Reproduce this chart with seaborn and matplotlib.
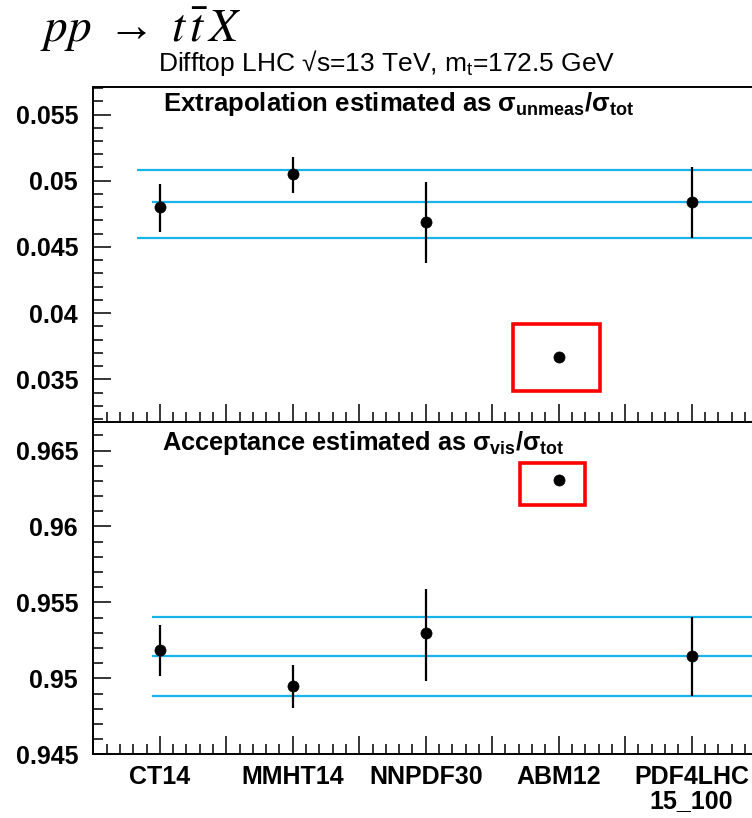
import numpy as np
import pandas as pd
import matplotlib
matplotlib.use('Agg')
import matplotlib.pyplot as plt
import seaborn as sns
from matplotlib.ticker import MultipleLocator, FuncFormatter
from matplotlib.patches import Rectangle

# data
models = ['CT14', 'MMHT14', 'NNPDF30', 'ABM12', 'PDF4LHC\n15_100']
positions = [1, 2, 3, 4, 5]

extrap_val = [0.04800, 0.05048, 0.04686, 0.03671, 0.04840]
extrap_up = [0.00173, 0.00132, 0.00306, 0.0, 0.00261]
extrap_dn = [0.00184, 0.00143, 0.00308, 0.0, 0.00274]
extrap_band = [0.05081, 0.04840, 0.04566]
extrap_band_start = [0.83, 0.944, 0.83]

accept_val = [0.95189, 0.94948, 0.95298, 0.96308, 0.95149]
accept_up = [0.00163, 0.00138, 0.00293, 0.0, 0.00252]
accept_dn = [0.00175, 0.00142, 0.00313, 0.0, 0.00262]
accept_band = [0.95407, 0.95145, 0.94883]
accept_band_start = [0.944, 0.944, 0.944]

# highlighted ABM12 boxes: (x0, x1, y0, y1)
extrap_box = [3.656, 4.308, 0.03412, 0.03914]
accept_box = [3.71, 4.196, 0.96139, 0.96419]

sns.set_style('ticks')
plt.rcParams['font.family'] = ['Liberation Sans', 'DejaVu Sans']
plt.rcParams['mathtext.default'] = 'regular'
for k in ['text.color', 'axes.labelcolor', 'xtick.color', 'ytick.color']:
    plt.rcParams[k] = 'black'

blue = '#19b3ec'

fig = plt.figure(figsize=(7.52, 8.18), dpi=100)
ax_top = fig.add_axes([0.1241, 0.4845, 0.884, 0.4095])
ax_bot = fig.add_axes([0.1241, 0.0779, 0.884, 0.4066])

panels = [
    (ax_top, extrap_val, extrap_up, extrap_dn, extrap_band, extrap_band_start, extrap_box, (0.0318, 0.0571)),
    (ax_bot, accept_val, accept_up, accept_dn, accept_band, accept_band_start, accept_box, (0.945, 0.9669)),
]

for ax, vals, up, dn, band, start, box, ylim in panels:
    df = pd.DataFrame({'pos': positions, 'val': vals})
    ax.hlines(band, xmin=start, xmax=5.5, color=blue, lw=1.6, zorder=1)
    ax.errorbar(df['pos'], df['val'], yerr=[dn, up], fmt='none', ecolor='black',
                elinewidth=1.6, capsize=0, zorder=2)
    sns.scatterplot(data=df, x='pos', y='val', ax=ax, color='black', s=64,
                    edgecolor='black', linewidth=0.5, zorder=3, legend=False)
    ax.add_patch(Rectangle((box[0], box[2]), box[1] - box[0], box[3] - box[2],
                           fill=False, edgecolor='#ff0000', lw=2.6, zorder=4))
    ax.set_xlim(0.5, 5.5)
    ax.set_ylim(*ylim)
    ax.set_xlabel('')
    ax.set_ylabel('')
    ax.yaxis.set_major_locator(MultipleLocator(0.005))
    ax.yaxis.set_minor_locator(MultipleLocator(0.001))
    ax.yaxis.set_major_formatter(FuncFormatter(lambda v, p: f'{round(v, 4):g}'))
    ax.set_xticks(np.arange(0.5, 5.51, 0.5))
    ax.xaxis.set_minor_locator(MultipleLocator(0.1))
    ax.tick_params(which='both', direction='in', top=False, right=False, width=1.1)
    ax.tick_params(which='major', length=13)
    ax.tick_params(which='minor', length=7.5)
    ax.tick_params(axis='y', which='major', pad=11, labelsize=18)
    ax.tick_params(axis='x', which='major', pad=8, labelsize=18)
    for lab in ax.get_yticklabels():
        lab.set_fontweight('bold')
    for s in ax.spines.values():
        s.set_linewidth(1.4)
        s.set_color('black')

xlabels = []
for t in np.arange(0.5, 5.51, 0.5):
    xlabels.append(models[positions.index(int(t))] if float(t).is_integer() else '')
ax_top.set_xticklabels([''] * len(xlabels))
ax_bot.set_xticklabels(xlabels, fontweight='bold', linespacing=1.0)

fig.text(40 / 752, 1 - 42 / 818, r'$\mathit{pp}\;\rightarrow\;\mathit{t\,\bar{t}\,X}$',
         fontsize=34, math_fontfamily='stix', va='baseline', ha='left')
fig.text(158 / 752, 1 - 70.7 / 818, r'Difftop LHC √s=13 TeV, m$_t$=172.5 GeV',
         fontsize=19, va='baseline', ha='left')
fig.text(163 / 752, 1 - 111.5 / 818,
         r'Extrapolation estimated as $\sigma_{unmeas}/\sigma_{tot}$',
         fontsize=18.5, fontweight='bold', va='baseline', ha='left')
fig.text(161.5 / 752, 1 - 450 / 818,
         r'Acceptance estimated as $\sigma_{vis}/\sigma_{tot}$',
         fontsize=18.3, fontweight='bold', va='baseline', ha='left')

fig.savefig('out.png', dpi=100)
